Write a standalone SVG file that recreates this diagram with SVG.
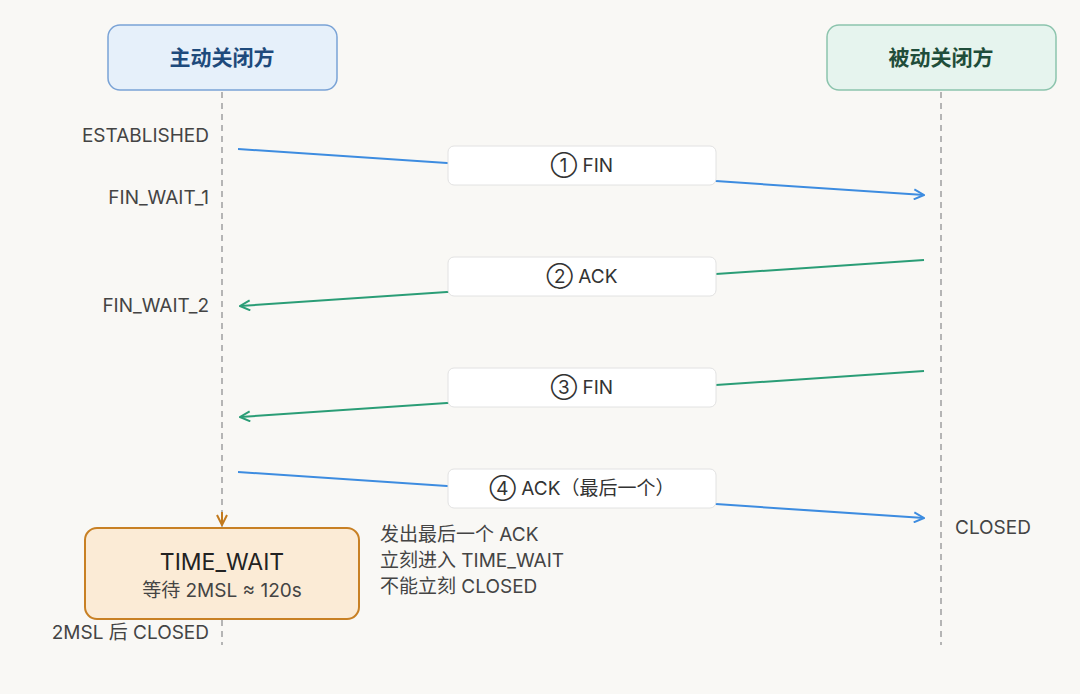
<svg xmlns="http://www.w3.org/2000/svg" width="1080" height="694" viewBox="0 0 1080 694">
<style>
text{font-family:Inter,"Noto Sans CJK SC",sans-serif}
.st{font-size:19px;fill:#444;text-anchor:end}
.lbl{font-size:19px;fill:#333;text-anchor:middle}
.lb{fill:#fff;stroke:#e2e2e2;stroke-width:1}
.life{stroke:#b5b5b5;stroke-width:2;stroke-dasharray:6,5}
.blue{stroke:#3d8ce0;stroke-width:2;fill:none}
.green{stroke:#2a9d76;stroke-width:2;fill:none}
</style>
<defs>
<marker id="ab" viewBox="0 0 12 12" refX="11" refY="6" markerWidth="12" markerHeight="12" markerUnits="userSpaceOnUse" orient="auto"><path d="M1,1 L11,6 L1,11" fill="none" stroke="#3d8ce0" stroke-width="2"/></marker>
<marker id="ag" viewBox="0 0 12 12" refX="11" refY="6" markerWidth="12" markerHeight="12" markerUnits="userSpaceOnUse" orient="auto"><path d="M1,1 L11,6 L1,11" fill="none" stroke="#2a9d76" stroke-width="2"/></marker>
<marker id="ao" viewBox="0 0 12 12" refX="11" refY="6" markerWidth="12" markerHeight="12" markerUnits="userSpaceOnUse" orient="auto"><path d="M1,1 L11,6 L1,11" fill="none" stroke="#c27a1e" stroke-width="2"/></marker>
</defs>
<rect width="1080" height="694" fill="#f9f8f5"/>
<g id="lifelines">
<line class="life" x1="222" y1="92" x2="222" y2="645"/>
<line class="life" x1="941" y1="92" x2="941" y2="645"/>
</g>
<g id="active">
<rect x="108" y="25" width="229" height="65" rx="12" fill="#e6f0fa" stroke="#7aa3d6" stroke-width="1.5"/>
<text x="222" y="65" font-size="21" font-weight="bold" fill="#1e4a7c" text-anchor="middle">主动关闭方</text>
</g>
<g id="passive">
<rect x="827" y="25" width="229" height="65" rx="12" fill="#e6f4ee" stroke="#8cc4ad" stroke-width="1.5"/>
<text x="941" y="65" font-size="21" font-weight="bold" fill="#1f4d3a" text-anchor="middle">被动关闭方</text>
</g>
<g id="states">
<text class="st" x="209" y="142">ESTABLISHED</text>
<text class="st" x="209" y="204">FIN_WAIT_1</text>
<text class="st" x="209" y="312">FIN_WAIT_2</text>
<text class="st" x="209" y="639">2MSL 后 CLOSED</text>
<text x="955" y="534" font-size="19" fill="#444">CLOSED</text>
</g>
<g id="connectors">
<line class="blue" x1="238" y1="149" x2="924" y2="195" marker-end="url(#ab)"/>
<line class="green" x1="924" y1="260" x2="240" y2="306" marker-end="url(#ag)"/>
<line class="green" x1="924" y1="371" x2="240" y2="417" marker-end="url(#ag)"/>
<line class="blue" x1="238" y1="472" x2="924" y2="518" marker-end="url(#ab)"/>
<line x1="222" y1="512" x2="222" y2="525" stroke="#c27a1e" stroke-width="2" marker-end="url(#ao)"/>
</g>
<g id="labels">
<rect class="lb" x="448" y="146" width="268" height="39" rx="6"/>
<text class="lbl" x="582" y="172">① FIN</text>
<rect class="lb" x="448" y="257" width="268" height="39" rx="6"/>
<text class="lbl" x="582" y="283">② ACK</text>
<rect class="lb" x="448" y="368" width="268" height="39" rx="6"/>
<text class="lbl" x="582" y="394">③ FIN</text>
<rect class="lb" x="448" y="469" width="268" height="39" rx="6"/>
<text class="lbl" x="582" y="495">④ ACK（最后一个）</text>
</g>
<g id="timewait">
<rect x="85" y="528" width="274" height="91" rx="12" fill="#fbebd6" stroke="#c88024" stroke-width="2"/>
<text x="222" y="570" font-size="23" fill="#222" text-anchor="middle">TIME_WAIT</text>
<text x="222" y="597" font-size="19" fill="#444" text-anchor="middle">等待 2MSL ≈ 120s</text>
</g>
<g id="note" font-size="19" fill="#444">
<text x="380" y="541">发出最后一个 ACK</text>
<text x="380" y="567">立刻进入 TIME_WAIT</text>
<text x="380" y="593">不能立刻 CLOSED</text>
</g>
</svg>
